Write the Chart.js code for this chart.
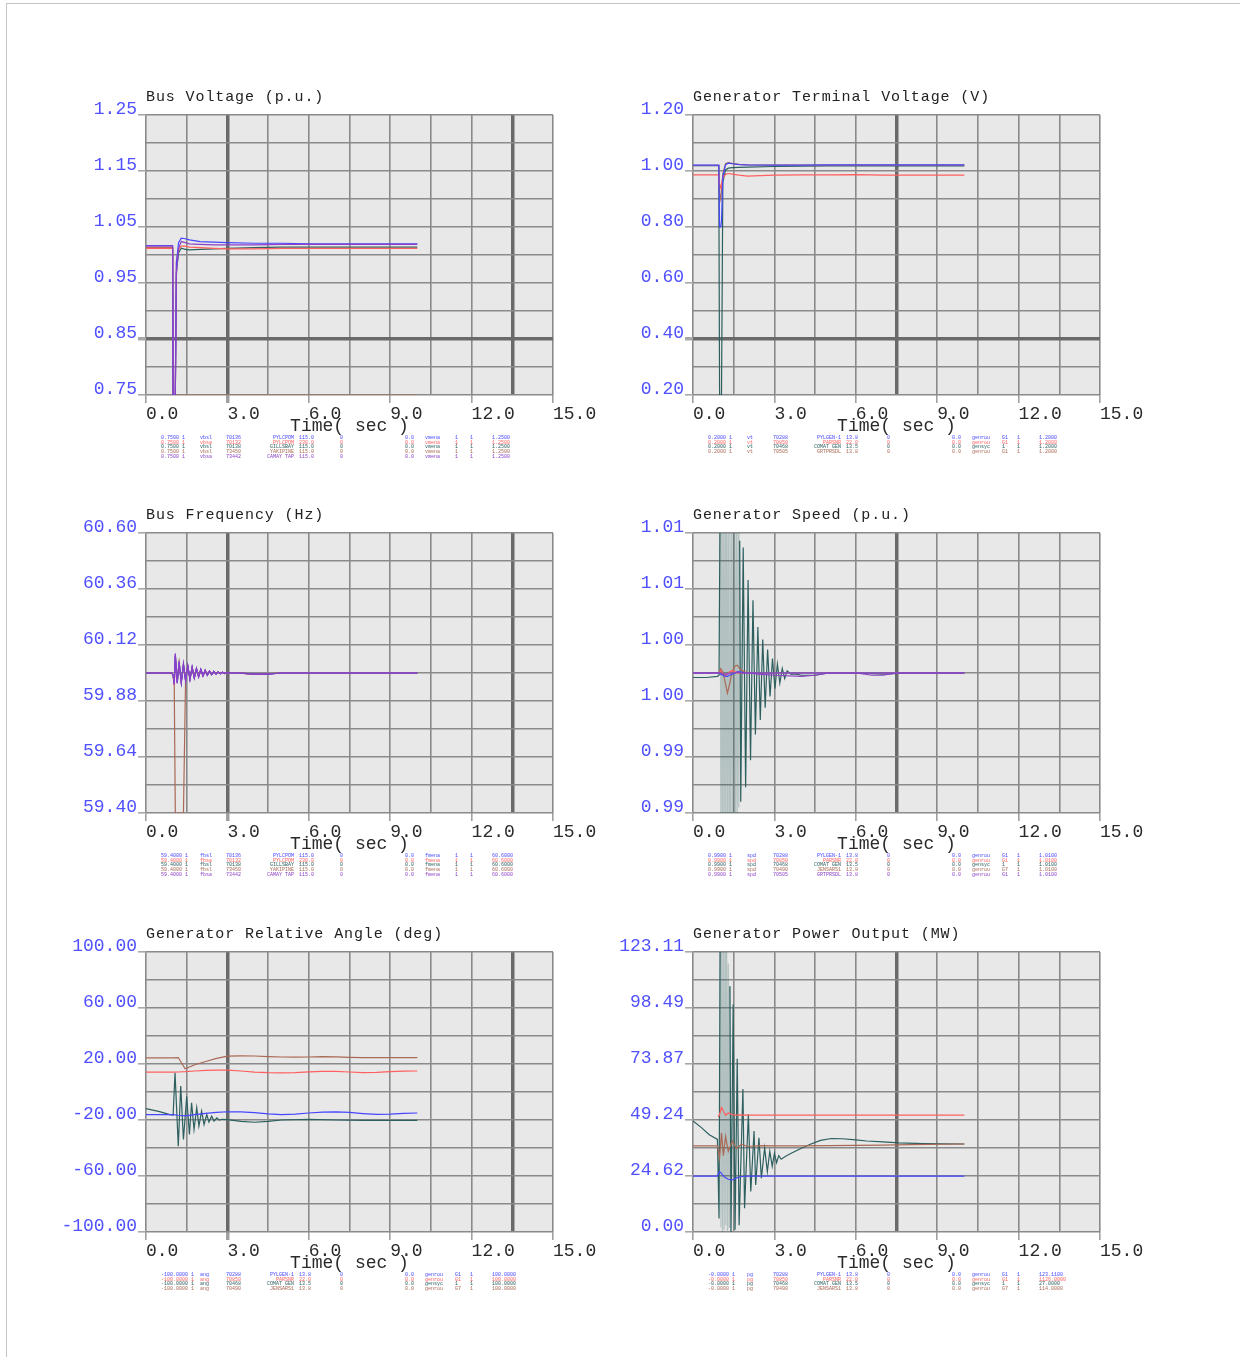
<!DOCTYPE html>
<html>
<head>
<meta charset="utf-8">
<title>Dynamic simulation plots</title>
<script src="https://cdn.jsdelivr.net/npm/chart.js@4.4.1/dist/chart.umd.min.js"></script>
<style>
  body { margin: 0; background: #fff; }
  #page { position: relative; width: 1240px; height: 1357px; overflow: hidden; }
  #frame { position: absolute; left: 6px; top: 3px; width: 1260px; height: 1380px; border-left: 1px solid #c4c4c4; border-top: 1px solid #c4c4c4; }
  canvas { position: absolute; }
  .title { position: absolute; font: 15px "Liberation Mono", monospace; letter-spacing: 0.9px; color: #222; white-space: pre; line-height: 17px; }
  .xlabel { position: absolute; font: 18px "Liberation Mono", monospace; color: #2a2a2a; text-align: center; line-height: 20px; white-space: pre; }
  .legend { position: absolute; font: 5px "Liberation Mono", monospace; }
  .legend div { position: relative; height: 4.7px; }
  .legend span { position: absolute; top: 0; line-height: 5px; white-space: pre; }
</style>
</head>
<body>
<div id="page"><div id="frame"></div></div>
<script>
const BLUE = 'rgb(70,70,255)';
const RED = 'rgb(255,95,95)';
const TEAL = 'rgb(45,95,95)';
const BROWN = 'rgb(170,105,85)';
const PURPLE = 'rgb(140,65,200)';

// time axis
const timeTicks = ['0.0', '3.0', '6.0', '9.0', '12.0', '15.0'];

// Bus Voltage (p.u.)
const busVTicks = ['1.25', '1.15', '1.05', '0.95', '0.85', '0.75'];
const tBusV = [0, 0.98, 1.0, 1.08, 1.12, 1.2, 1.3, 1.45, 1.6, 2.0, 2.5, 3.0, 4.0, 5.0, 6.0, 8.0, 10.0];
const busVBlue = [1.017, 1.017, 0.75, 0.75, 0.985, 1.022, 1.030, 1.029, 1.027, 1.024, 1.023, 1.022, 1.021, 1.021, 1.020, 1.020, 1.020];
const busVRed = [1.012, 1.012, 0.75, 0.75, 0.990, 1.010, 1.016, 1.016, 1.014, 1.013, 1.012, 1.011, 1.011, 1.012, 1.012, 1.012, 1.012];
const busVTeal = [1.012, 1.012, 0.75, 0.75, 0.970, 1.004, 1.012, 1.010, 1.009, 1.010, 1.011, 1.012, 1.013, 1.014, 1.014, 1.014, 1.014];
const busVBrown = [1.013, 1.013, 0.75, 0.75, 0.75, 0.75, 0.75, 0.75, 0.75, 0.75, 0.75, 0.75, 0.75, 0.75, 0.75, 0.75, 0.75];
const busVPurple = [1.016, 1.016, 0.75, 0.75, 0.965, 1.012, 1.024, 1.022, 1.020, 1.019, 1.018, 1.018, 1.018, 1.019, 1.019, 1.019, 1.019];
const busVLegend = [
  ['0.7500 1', 'vbsl', '70136', 'PYLCPOM', '115.0', '0', '0.0', 'vmena', '1', '1', '1.2500'],
  ['0.7500 1', 'vbsa', '70132', 'PYLCPOM', '230.0', '0', '0.0', 'vmena', '1', '1', '1.2500'],
  ['0.7500 1', 'vbsl', '70138', 'GILLSBAY', '115.0', '0', '0.0', 'vmena', '1', '1', '1.2500'],
  ['0.7500 1', 'vbsl', '73450', 'YAKIPINE', '115.0', '0', '0.0', 'vmena', '1', '1', '1.2500'],
  ['0.7500 1', 'vbsa', '73442', 'CAMAY TAP', '115.0', '0', '0.0', 'vmena', '1', '1', '1.2500']
];

// Generator Terminal Voltage (V)
const genVTicks = ['1.20', '1.00', '0.80', '0.60', '0.40', '0.20'];
const tGenV = [0, 0.95, 0.98, 1.02, 1.05, 1.1, 1.2, 1.3, 1.45, 1.7, 2.0, 3.0, 4.0, 5.0, 6.0, 7.0, 8.0, 10.0];
const vtBlue = [1.021, 1.021, 0.80, 0.80, 0.82, 0.98, 1.022, 1.028, 1.026, 1.023, 1.022, 1.021, 1.021, 1.022, 1.022, 1.022, 1.022, 1.022];
const vtRed = [0.986, 0.986, 0.95, 0.94, 0.955, 0.975, 0.988, 0.991, 0.989, 0.985, 0.982, 0.985, 0.986, 0.986, 0.987, 0.985, 0.985, 0.985];
const vtTeal = [1.019, 1.019, 0.20, 0.20, 0.20, 0.96, 1.004, 1.010, 1.012, 1.013, 1.014, 1.016, 1.017, 1.018, 1.018, 1.018, 1.018, 1.018];
const vtBrown = [1.020, 1.020, 0.92, 0.90, 0.93, 0.99, 1.026, 1.030, 1.027, 1.024, 1.022, 1.021, 1.021, 1.021, 1.021, 1.021, 1.021, 1.021];
const genVLegend = [
  ['0.2000 1', 'vt', '70288', 'PYLGEN-1', '13.8', '0', '0.0', 'genrou', 'G1', '1', '1.2000'],
  ['0.2000 1', 'vt', '70850', 'PARSNR', '22.0', '0', '0.0', 'genrou', 'G1', '1', '1.2000'],
  ['0.2000 1', 'vt', '70468', 'COMAT GEN', '13.5', '0', '0.0', 'gensyc', '1', '1', '1.2000'],
  ['0.2000 1', 'vt', '70505', 'GRTPRSDL', '13.8', '0', '0.0', 'genrou', 'G1', '1', '1.2000']
];

// Bus Frequency (Hz)
const freqTicks = ['60.60', '60.36', '60.12', '59.88', '59.64', '59.40'];
const tFreq = [0, 0.95, 1.0, 1.04, 1.08, 1.15, 1.22,
  1.30, 1.38, 1.46, 1.54, 1.62, 1.70, 1.78, 1.86, 1.94, 2.02, 2.10, 2.18, 2.26, 2.34, 2.42, 2.50, 2.58, 2.66, 2.74, 2.82, 2.90, 2.98,
  3.1, 3.3, 3.6, 4.0, 4.5, 5.0, 6.0, 8.0, 10.0];
const freqBlue = [60.000, 60.000, 59.992, 59.955, 60.078, 59.958, 60.046,
  59.960, 60.037, 59.967, 60.030, 59.973, 60.024, 59.979, 60.019, 59.984, 60.015, 59.988, 60.011, 59.991, 60.008, 59.993, 60.006, 59.995, 60.004, 59.997, 60.003, 59.998, 60.002,
  60.000, 60.000, 59.998, 59.996, 59.995, 60.000, 60.000, 60.000, 60.000];
const freqRed = [60.000, 60.000, 59.990, 59.948, 60.070, 59.962, 60.042,
  59.963, 60.034, 59.970, 60.028, 59.975, 60.022, 59.980, 60.018, 59.985, 60.014, 59.989, 60.010, 59.992, 60.008, 59.994, 60.006, 59.996, 60.004, 59.997, 60.003, 59.998, 60.001,
  60.000, 60.000, 59.998, 59.995, 59.996, 60.000, 60.000, 60.000, 60.000];
const freqTeal = [60.000, 60.000, 59.991, 59.952, 60.074, 59.960, 60.044,
  59.961, 60.036, 59.968, 60.029, 59.974, 60.023, 59.980, 60.018, 59.984, 60.014, 59.988, 60.011, 59.991, 60.008, 59.994, 60.006, 59.996, 60.004, 59.997, 60.003, 59.998, 60.002,
  60.000, 60.000, 59.998, 59.994, 59.996, 60.000, 60.000, 60.000, 60.000];
const freqBrown = [60.000, 60.000, 59.990, 59.960, 59.400, 59.400, 59.400,
  59.400, 59.400, 59.985, 60.028, 59.975, 60.022, 59.980, 60.018, 59.985, 60.014, 59.989, 60.010, 59.992, 60.008, 59.994, 60.006, 59.996, 60.004, 59.997, 60.003, 59.998, 60.001,
  60.000, 60.000, 59.998, 59.995, 59.996, 60.000, 60.000, 60.000, 60.000];
const freqPurple = [60.000, 60.000, 59.990, 59.950, 60.085, 59.955, 60.050,
  59.958, 60.040, 59.965, 60.032, 59.972, 60.026, 59.978, 60.020, 59.983, 60.016, 59.987, 60.012, 59.990, 60.009, 59.993, 60.007, 59.995, 60.005, 59.997, 60.003, 59.998, 60.002,
  60.000, 60.000, 59.998, 59.995, 59.995, 60.000, 60.000, 60.000, 60.000];
const freqLegend = [
  ['59.4000 1', 'fbsl', '70136', 'PYLCPOM', '115.0', '0', '0.0', 'fmena', '1', '1', '60.6000'],
  ['59.4000 1', 'fbsa', '70132', 'PYLCPOM', '230.0', '0', '0.0', 'fmena', '1', '1', '60.6000'],
  ['59.4000 1', 'fbsl', '70138', 'GILLSBAY', '115.0', '0', '0.0', 'fmena', '1', '1', '60.6000'],
  ['59.4000 1', 'fbsl', '73450', 'YAKIPINE', '115.0', '0', '0.0', 'fmena', '1', '1', '60.6000'],
  ['59.4000 1', 'fbsa', '73442', 'CAMAY TAP', '115.0', '0', '0.0', 'fmena', '1', '1', '60.6000']
];

// Generator Speed (p.u.)
const speedTicks = ['1.01', '1.01', '1.00', '1.00', '0.99', '0.99'];
const tSpeedOsc = [0, 0.5, 0.9, 0.96,
  1.00, 1.03, 1.06, 1.09, 1.12, 1.15, 1.18, 1.21, 1.24, 1.27, 1.30, 1.33, 1.36, 1.39, 1.42, 1.45, 1.48, 1.51, 1.54, 1.57, 1.60, 1.63, 1.66, 1.69, 1.72,
  1.76, 1.85, 1.94, 2.03, 2.12, 2.21, 2.30, 2.39, 2.48, 2.57, 2.66, 2.75, 2.84, 2.93, 3.02, 3.11, 3.20, 3.29, 3.38, 3.47, 3.6, 3.8, 4.0, 4.5, 5.0, 6.0, 7.0, 8.0, 10.0];
const speedTeal = [0.9996, 0.9996, 0.9997, 0.9998,
  1.0160, 0.9840, 1.0160, 0.9840, 1.0155, 0.9845, 1.0150, 0.9850, 1.0150, 0.9850, 1.0145, 0.9855, 1.0140, 0.9860, 1.0140, 0.9860, 1.0135, 0.9865, 1.0130, 0.9870, 1.0130, 0.9872, 1.0125, 0.9880, 1.0118,
  0.9885, 1.0112, 0.9898, 1.0083, 0.9922, 1.0065, 0.9945, 1.0041, 0.9958, 1.0030, 0.9969, 1.0021, 0.9979, 1.0013, 0.9986, 1.0008, 0.9991, 1.0004, 0.9995, 1.0002, 0.9999, 0.9999, 0.9998, 0.9998, 1.0000, 1.0000, 0.9999, 1.0000, 1.0000];
const tSpeed = [0, 0.96, 1.02, 1.1, 1.2, 1.27, 1.35, 1.45, 1.55, 1.63, 1.75, 1.9, 2.1, 2.4, 3.0, 4.0, 4.5, 5.0, 6.0, 6.6, 7.0, 7.5, 8.0, 10.0];
const speedBlue = [1.0000, 1.0000, 0.9999, 0.9998, 0.9997, 0.9997, 0.9998, 0.9999, 1.0000, 1.0001, 1.0001, 1.0000, 1.0000, 1.0000, 1.0000, 1.0000, 1.0000, 1.0000, 1.0000, 1.0000, 1.0000, 1.0000, 1.0000, 1.0000];
const speedRed = [1.0000, 1.0000, 1.0002, 0.9999, 0.9998, 0.9999, 1.0001, 1.0002, 1.0001, 1.0000, 1.0000, 1.0000, 1.0000, 1.0000, 1.0000, 1.0000, 1.0000, 1.0000, 1.0000, 1.0000, 1.0000, 1.0000, 1.0000, 1.0000];
const speedBrown = [1.0000, 1.0000, 1.0004, 1.0001, 0.9990, 0.9982, 0.9990, 1.0002, 1.0006, 1.0007, 1.0003, 1.0001, 1.0000, 1.0000, 1.0000, 1.0000, 1.0000, 1.0000, 1.0000, 1.0000, 1.0000, 1.0000, 1.0000, 1.0000];
const speedPurple = [1.0000, 1.0000, 1.0000, 0.9999, 0.9999, 0.9999, 1.0000, 1.0000, 1.0000, 1.0001, 1.0000, 1.0000, 1.0000, 0.9999, 0.9998, 0.9997, 0.9998, 1.0000, 1.0000, 0.9998, 0.9998, 1.0000, 1.0000, 1.0000];
const speedLegend = [
  ['0.9900 1', 'spd', '70288', 'PYLGEN-1', '13.8', '0', '0.0', 'genrou', 'G1', '1', '1.0100'],
  ['0.9900 1', 'spd', '70850', 'PARSNR', '22.0', '0', '0.0', 'genrou', 'G1', '1', '1.0100'],
  ['0.9900 1', 'spd', '70468', 'COMAT GEN', '13.5', '0', '0.0', 'gensyc', '1', '1', '1.0100'],
  ['0.9900 1', 'spd', '70490', 'JENSARS1', '13.8', '0', '0.0', 'genrou', 'G7', '1', '1.0100'],
  ['0.9900 1', 'spd', '70505', 'GRTPRSDL', '13.8', '0', '0.0', 'genrou', 'G1', '1', '1.0100']
];

// Generator Relative Angle (deg)
const angleTicks = ['100.00', '60.00', '20.00', '-20.00', '-60.00', '-100.00'];
const tAngOsc = [0, 0.5, 0.88, 1.0, 1.07, 1.19, 1.28, 1.38, 1.50, 1.60, 1.68, 1.77, 1.87, 1.95, 2.05, 2.14, 2.24, 2.32, 2.42, 2.51, 2.61, 2.70, 2.8, 3.0,
  3.5, 4.0, 4.5, 5.0, 6.0, 7.0, 8.0, 9.0, 10.0];
const angTeal = [-11.8, -14.0, -16.1, -16.5, 13.7, -38.7, 4.2, -33.9, -3.0, -30.4, -7.7, -26.8, -11.3, -24.4, -13.7, -23.2, -16.1, -21.5, -17.3, -20.8, -18.5, -20.1, -19.5, -19.8,
  -21.0, -21.6, -21.0, -20.0, -19.6, -20.0, -20.2, -20.2, -20.2];
const tAng = [0, 1.0, 1.19, 1.44, 1.8, 2.2, 2.6, 3.0, 3.5, 4.0, 4.5, 5.0, 5.5, 6.0, 6.5, 7.0, 7.5, 8.0, 8.5, 9.0, 9.5, 10.0];
const angBlue = [-16.1, -16.1, -16.6, -17.0, -16.2, -15.2, -14.5, -14.1, -14.2, -14.8, -15.6, -16.1, -15.8, -15.0, -14.4, -14.2, -14.6, -15.4, -16.0, -15.8, -15.2, -15.0];
const angRed = [14.2, 14.2, 14.3, 14.5, 15.0, 15.4, 15.6, 15.6, 15.0, 14.2, 13.8, 13.7, 13.9, 14.4, 14.8, 14.7, 14.3, 13.9, 14.0, 14.5, 14.9, 15.0];
const angBrown = [24.4, 24.4, 24.6, 16.6, 19.5, 21.8, 24.0, 25.6, 25.8, 25.7, 25.3, 25.0, 24.9, 25.0, 25.2, 25.1, 24.8, 24.6, 24.5, 24.6, 24.6, 24.5];
const angleLegend = [
  ['-100.0000 1', 'ang', '70288', 'PYLGEN-1', '13.8', '0', '0.0', 'genrou', 'G1', '1', '100.0000'],
  ['-100.0000 1', 'ang', '70850', 'PARSNR', '22.0', '0', '0.0', 'genrou', 'G1', '1', '100.0000'],
  ['-100.0000 1', 'ang', '70468', 'COMAT GEN', '13.5', '0', '0.0', 'gensyc', '1', '1', '100.0000'],
  ['-100.0000 1', 'ang', '70490', 'JENSARS1', '13.8', '0', '0.0', 'genrou', 'G7', '1', '100.0000']
];

// Generator Power Output (MW)
const powerTicks = ['123.11', '98.49', '73.87', '49.24', '24.62', '0.00'];
const tPowOsc = [0, 0.3, 0.6, 0.9, 0.96,
  1.00, 1.03, 1.06, 1.09, 1.12, 1.15, 1.18, 1.21, 1.24, 1.27, 1.30, 1.33, 1.36, 1.40,
  1.48, 1.55, 1.63, 1.70, 1.84, 1.90, 2.04, 2.13, 2.25, 2.31, 2.43, 2.52, 2.64, 2.74, 2.83, 2.92, 3.00, 3.08, 3.16, 3.25,
  3.4, 3.6, 3.9, 4.3, 4.7, 5.1, 5.5, 6.0, 6.4, 7.0, 7.6, 8.5, 10.0];
const powTeal = [48.8, 46.0, 42.8, 40.7, 5.9,
  130, 2.0, 130, 0.0, 130, 1.0, 128, 3.0, 125, 0.5, 118, 2.0, 108, 0.0,
  100, 1.0, 76.2, 3.0, 62.9, 10.4, 51.8, 17.8, 44.4, 20.7, 41.4, 23.7, 37.0, 26.6, 35.5, 28.9, 34.5, 30.5, 33.6, 32.0,
  33.2, 34.5, 36.3, 38.5, 40.3, 41.1, 41.0, 40.5, 40.0, 39.6, 39.2, 38.9, 38.7];
const tPow = [0, 0.9, 0.93, 0.98, 1.05, 1.12, 1.2, 1.3, 1.45, 1.6, 1.8, 2.0, 2.5, 3.0, 4.0, 5.0, 6.0, 7.0, 8.0, 10.0];
const powBlue = [24.6, 24.6, 25.5, 26.6, 25.8, 24.6, 23.8, 23.2, 22.9, 23.8, 24.4, 24.6, 24.6, 24.6, 24.6, 24.6, 24.6, 24.6, 24.6, 24.6];
const powBrown = [37.9, 37.9, 36.0, 32.5, 43.6, 33.5, 42.0, 35.5, 40.0, 36.8, 38.6, 37.6, 38.0, 37.9, 37.9, 38.0, 38.1, 38.2, 38.4, 38.7];
const tPowRed = [0.93, 0.98, 1.05, 1.12, 1.2, 1.3, 1.45, 1.6, 1.8, 2.0, 2.5, 3.0, 4.0, 5.0, 6.0, 7.0, 8.0, 10.0];
const powRed = [50.6, 51.8, 54.8, 53.2, 51.3, 52.3, 51.6, 51.4, 51.5, 51.4, 51.4, 51.4, 51.4, 51.4, 51.4, 51.4, 51.4, 51.4];
const powerLegend = [
  ['-0.0000 1', 'pg', '70288', 'PYLGEN-1', '13.8', '0', '0.0', 'genrou', 'G1', '1', '123.1100'],
  ['-0.0000 1', 'pg', '70850', 'PARSNR', '22.0', '0', '0.0', 'genrou', 'G1', '1', '1126.0000'],
  ['-0.0000 1', 'pg', '70468', 'COMAT GEN', '13.5', '0', '0.0', 'gensyc', '1', '1', '27.0000'],
  ['-0.0000 1', 'pg', '70490', 'JENSARS1', '13.8', '0', '0.0', 'genrou', 'G7', '1', '114.0000']
];

// draw order: purple on top, teal at the back
const drawOrder = { [PURPLE]: 0, [BLUE]: 1, [RED]: 2, [BROWN]: 3, [TEAL]: 4 };
const legendCols = [15, 54, 80, 148, 153, 194, 259, 279, 309, 324, 346];

const panels = [
  { title: 'Bus Voltage (p.u.)', left: 146, top: 115, yMin: 0.75, yMax: 1.25, yLabels: busVTicks, thickX: [2, 9], thickY: [2], legend: busVLegend,
    series: [[tBusV, busVBlue, BLUE], [tBusV, busVRed, RED], [tBusV, busVTeal, TEAL], [tBusV, busVBrown, BROWN], [tBusV, busVPurple, PURPLE]] },
  { title: 'Generator Terminal Voltage (V)', left: 693, top: 115, yMin: 0.2, yMax: 1.2, yLabels: genVTicks, thickX: [5], thickY: [2], legend: genVLegend,
    series: [[tGenV, vtBlue, BLUE], [tGenV, vtRed, RED], [tGenV, vtTeal, TEAL], [tGenV, vtBrown, BROWN]] },
  { title: 'Bus Frequency (Hz)', left: 146, top: 533, yMin: 59.4, yMax: 60.6, yLabels: freqTicks, thickX: [2, 9], thickY: [], legend: freqLegend,
    series: [[tFreq, freqBlue, BLUE], [tFreq, freqRed, RED], [tFreq, freqTeal, TEAL], [tFreq, freqBrown, BROWN], [tFreq, freqPurple, PURPLE]] },
  { title: 'Generator Speed (p.u.)', left: 693, top: 533, yMin: 0.9875, yMax: 1.0125, yLabels: speedTicks, thickX: [5], thickY: [], legend: speedLegend,
    series: [[tSpeed, speedBlue, BLUE], [tSpeed, speedRed, RED], [tSpeedOsc, speedTeal, TEAL, true], [tSpeed, speedBrown, BROWN], [tSpeed, speedPurple, PURPLE]] },
  { title: 'Generator Relative Angle (deg)', left: 146, top: 952, yMin: -100, yMax: 100, yLabels: angleTicks, thickX: [2, 9], thickY: [], legend: angleLegend,
    series: [[tAng, angBlue, BLUE], [tAng, angRed, RED], [tAngOsc, angTeal, TEAL], [tAng, angBrown, BROWN]] },
  { title: 'Generator Power Output (MW)', left: 693, top: 952, yMin: 0, yMax: 123.11, yLabels: powerTicks, thickX: [5], thickY: [], legend: powerLegend,
    series: [[tPow, powBlue, BLUE], [tPowRed, powRed, RED], [tPowOsc, powTeal, TEAL, true], [tPow, powBrown, BROWN]] }
];

const PLOT_W = 407, PLOT_H = 280;
const PAD_L = 6, Y_W = 100, PAD_R = 50, PAD_T = 20, X_H = 40;

const plotBackground = {
  id: 'plotBackground',
  beforeDraw(chart) {
    const { ctx, chartArea: a } = chart;
    ctx.save();
    ctx.fillStyle = '#e8e8e8';
    ctx.fillRect(a.left, a.top, a.right - a.left, a.bottom - a.top);
    ctx.restore();
  }
};

const page = document.getElementById('page');

function addDiv(cls, left, top, text) {
  const d = document.createElement('div');
  d.className = cls;
  d.style.left = left + 'px';
  d.style.top = top + 'px';
  if (text !== undefined) d.textContent = text;
  page.appendChild(d);
  return d;
}

function drawPanel(p) {
  const canvas = document.createElement('canvas');
  canvas.width = PAD_L + Y_W + PLOT_W + PAD_R;
  canvas.height = PAD_T + PLOT_H + X_H;
  canvas.style.left = (p.left - Y_W - PAD_L) + 'px';
  canvas.style.top = (p.top - PAD_T) + 'px';
  page.appendChild(canvas);

  const yStep = (p.yMax - p.yMin) / 10;
  const yGrid = [];
  for (let i = 0; i <= 10; i++) yGrid.push(p.yMin + i * yStep);
  const xGrid = [];
  for (let i = 0; i <= 10; i++) xGrid.push(i * 1.5);

  const datasets = p.series.map(([t, v, color, dense]) => {
    const ds = {
      data: t.map((x, i) => ({ x: x, y: v[i] })),
      borderColor: color,
      borderWidth: 1.2,
      pointRadius: 0,
      tension: 0,
      fill: false,
      order: drawOrder[color]
    };
    if (dense) {
      // very fast swings blur into a pale band in the original plot
      ds.segment = {
        borderColor: c => (c.p1.parsed.x - c.p0.parsed.x) < 0.035 ? 'rgba(45,95,95,0.28)' : undefined
      };
    }
    return ds;
  });

  new Chart(canvas, {
    type: 'line',
    data: { datasets: datasets },
    options: {
      responsive: false,
      animation: false,
      events: [],
      layout: { padding: { left: PAD_L, right: PAD_R, top: PAD_T, bottom: 0 } },
      plugins: { legend: { display: false }, tooltip: { enabled: false } },
      scales: {
        x: {
          type: 'linear', min: 0, max: 15,
          afterBuildTicks: s => { s.ticks = xGrid.map(v => ({ value: v })); },
          afterFit: s => { s.height = X_H; },
          border: { display: false },
          grid: {
            color: c => p.thickX.includes(c.index) ? '#6a6a6a' : '#8a8a8a',
            lineWidth: c => p.thickX.includes(c.index) ? 3.5 : 1.6,
            tickLength: 8,
            tickColor: c => c.index % 2 === 0 ? '#a0a0a0' : 'rgba(0,0,0,0)'
          },
          ticks: {
            autoSkip: false, maxRotation: 0, minRotation: 0, align: 'start', padding: 0,
            color: '#2a2a2a', font: { family: 'Liberation Mono', size: 18 },
            callback: (v, i) => i % 2 === 0 ? timeTicks[i / 2] : ''
          }
        },
        y: {
          type: 'linear', min: p.yMin, max: p.yMax,
          afterBuildTicks: s => { s.ticks = yGrid.map(v => ({ value: v })); },
          afterFit: s => { s.width = Y_W; },
          border: { display: false },
          grid: {
            color: c => p.thickY.includes(c.index) ? '#6a6a6a' : '#8a8a8a',
            lineWidth: c => p.thickY.includes(c.index) ? 3.5 : 1.6,
            tickLength: 8,
            tickColor: c => c.index % 2 === 0 ? '#a8a8a8' : 'rgba(0,0,0,0)'
          },
          ticks: {
            autoSkip: false, padding: 1, labelOffset: -6,
            color: '#5050ff', font: { family: 'Liberation Mono', size: 18 },
            callback: (v, i) => i % 2 === 0 ? p.yLabels[5 - i / 2] : ''
          }
        }
      }
    },
    plugins: [plotBackground]
  });

  addDiv('title', p.left, p.top - 26, p.title);
  const xl = addDiv('xlabel', p.left, p.top + PLOT_H + 21, 'Time( sec )');
  xl.style.width = PLOT_W + 'px';

  const lg = addDiv('legend', p.left, p.top + PLOT_H + 41);
  p.legend.forEach((row, r) => {
    const line = document.createElement('div');
    line.style.color = p.series[r][2];
    row.forEach((cell, c) => {
      const s = document.createElement('span');
      s.textContent = cell;
      if (c === 3) {
        s.style.right = (PLOT_W - legendCols[c]) + 'px';
      } else {
        s.style.left = legendCols[c] + 'px';
      }
      line.appendChild(s);
    });
    lg.appendChild(line);
  });
  lg.style.width = PLOT_W + 'px';
}

panels.forEach(drawPanel);
</script>
</body>
</html>
